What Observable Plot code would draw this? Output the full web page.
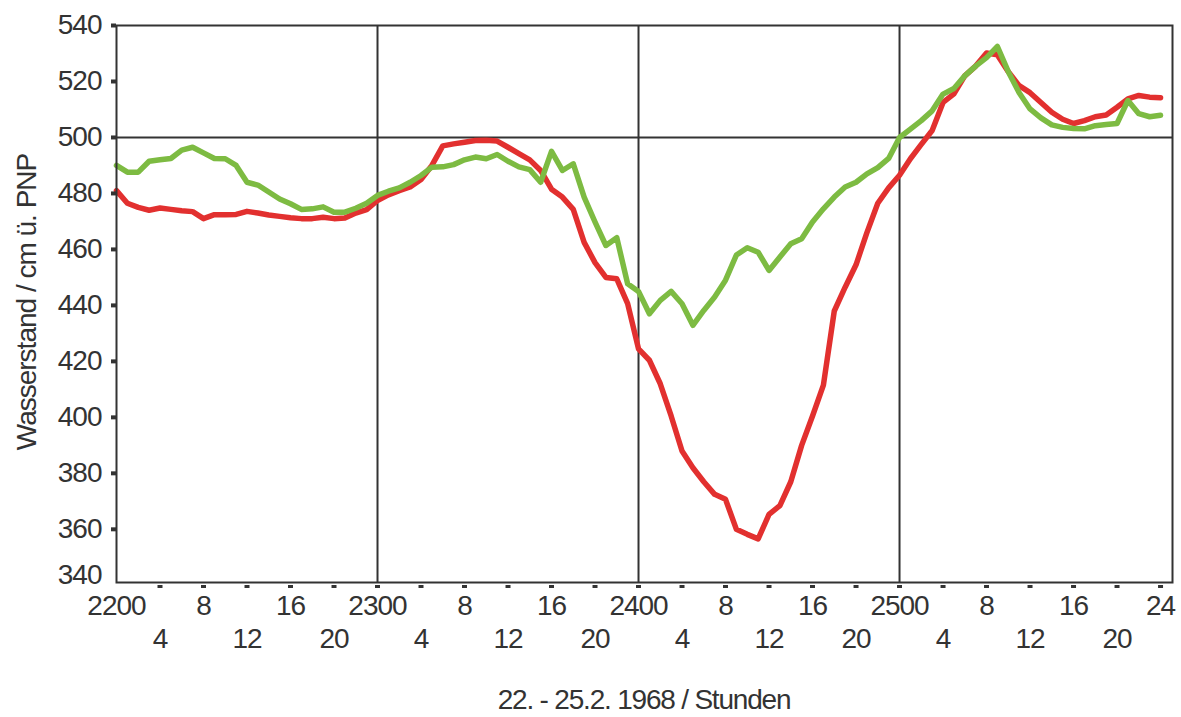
<!DOCTYPE html>
<html>
<head>
<meta charset="utf-8">
<script src="https://cdn.jsdelivr.net/npm/d3@7"></script>
<script src="https://cdn.jsdelivr.net/npm/@observablehq/plot@0.6"></script>
<style>
  body { margin: 0; background: #fff; font-family: "Liberation Sans", Arial, sans-serif; color: #333; }
  #wrap { position: relative; width: 1181px; height: 717px; overflow: hidden; }
  #wrap svg text { letter-spacing: -1px; }
  #ytitle { position: absolute; left: 27px; top: 302px; transform: translate(-50%, -50%) rotate(-90deg);
            font-size: 28px; letter-spacing: -1px; white-space: nowrap; line-height: 1; }
  #xtitle { position: absolute; left: 644px; top: 686px; transform: translateX(-50%);
            font-size: 28px; letter-spacing: -1.2px; white-space: nowrap; line-height: 1; }
</style>
</head>
<body>
<div id="wrap">
  <div id="chart"></div>
  <div id="ytitle">Wasserstand / cm ü. PNP</div>
  <div id="xtitle">22. - 25.2. 1968 / Stunden</div>
</div>
<script>
// hours since 22.2.1968 00:00
const hours = d3.range(0, 97);

// red series (water level, cm above PNP)
const redLevel = [
  481, 476.5, 475, 474, 474.8, 474.3, 473.8, 473.5, 471, 472.4, 472.4, 472.5, 473.6, 473, 472.3, 471.8, 471.3, 471, 471, 471.5, 471, 471.2, 473, 474.2,
  477.5, 479.5, 481, 482.3, 485, 490, 497, 497.7, 498.3, 498.9, 499, 498.7, 496.5, 494.2, 492, 488.2, 481.5, 478.7, 474.3, 462.5, 455.3, 450, 449.5, 440.6,
  424.5, 420.4, 412, 400.5, 388, 382, 377, 372.5, 370.7, 360, 358.2, 356.6, 365.3, 368.5, 377, 390, 400.5, 411.5, 438, 446.5, 454.5, 466, 476.5, 482,
  486.5, 492.4, 497.5, 502.5, 512.5, 515.6, 522, 525.5, 530.2, 529.5, 523.5, 518.5, 516, 512.5, 509, 506.5, 505, 506, 507.4, 508, 510.8, 513.8, 515, 514.4,
  514.2
];

// green series (water level, cm above PNP)
const greenLevel = [
  490, 487.6, 487.6, 491.5, 492, 492.5, 495.5, 496.5, 494.5, 492.5, 492.4, 490, 484, 483, 480.5, 478, 476.3, 474.3, 474.5, 475.2, 473.3, 473.3, 474.7, 476.5,
  479.3, 480.8, 482, 484, 486.4, 489.4, 489.5, 490.3, 492, 493, 492.4, 493.9, 491.5, 489.5, 488.5, 484, 495, 488.2, 490.6, 478.7, 469.8, 461.4, 464.2, 447.7,
  445, 437, 441.8, 445, 440.6, 432.9, 438.2, 443, 449, 458, 460.6, 459, 452.5, 457.3, 462, 463.8, 469.8, 474.5, 478.7, 482.3, 484, 487, 489.2, 492.5,
  500, 503, 506, 509.5, 515.5, 517.5, 522, 525.5, 528.5, 532.5, 523.5, 516, 510.2, 507, 504.5, 503.6, 503.2, 503.1, 504.2, 504.6, 505, 513.2, 508.5, 507.4,
  507.9
];

// axis ticks and labels
const yTicks = [340, 360, 380, 400, 420, 440, 460, 480, 500, 520, 540];
const row1Ticks = [0, 8, 16, 24, 32, 40, 48, 56, 64, 72, 80, 88, 96];
const row1Labels = ["2200", "8", "16", "2300", "8", "16", "2400", "8", "16", "2500", "8", "16", "24"];
const row2Ticks = [4, 12, 20, 28, 36, 44, 52, 60, 68, 76, 84, 92];
const row2Labels = ["4", "12", "20", "4", "12", "20", "4", "12", "20", "4", "12", "20"];
const dashTicks = [4, 8, 12, 16, 20, 24, 28, 32, 36, 40, 44, 48, 52, 56, 60, 64, 68, 72, 76, 80, 84, 88, 92, 96];
const dayBreaks = [24, 48, 72];
const refLevel = [500];

const data = hours.map((h, i) => ({ h, red: redLevel[i], green: greenLevel[i] }));

const ink = "#333";
const plot = Plot.plot({
  width: 1181,
  height: 662,
  marginLeft: 116,
  marginRight: 9,
  marginTop: 25,
  marginBottom: 80,
  x: { domain: [0, 97.1] },
  y: { domain: [341, 540] },
  style: { fontFamily: "Liberation Sans, Arial, sans-serif", fontSize: "28px", color: ink, background: "white", overflow: "visible" },
  marks: [
    Plot.ruleX(dayBreaks, { stroke: ink, strokeWidth: 2 }),
    Plot.ruleY(refLevel, { stroke: ink, strokeWidth: 2 }),
    Plot.line(data, { x: "h", y: "red", stroke: "#e2302f", strokeWidth: 5.5, strokeLinejoin: "round" }),
    Plot.line(data, { x: "h", y: "green", stroke: "#7dbb42", strokeWidth: 5.5, strokeLinejoin: "round" }),
    Plot.frame({ stroke: ink, strokeWidth: 2 }),
    Plot.axisY(yTicks.slice(1), { tickSize: 5, strokeWidth: 4, tickPadding: 10, stroke: ink, fill: ink, fontSize: 28, label: null }),
    Plot.axisY([yTicks[0]], { tickSize: 0, tickPadding: 15, dy: -10, fill: ink, fontSize: 28, label: null }),
    Plot.axisX(dashTicks, { tickSize: 3, dy: 3, strokeWidth: 5, stroke: ink, tickFormat: () => "", label: null }),
    Plot.axisX(row1Ticks, { tickSize: 0, tickPadding: 13, fill: ink, fontSize: 28, label: null,
      tickFormat: d => row1Labels[row1Ticks.indexOf(d)] }),
    Plot.axisX(row2Ticks, { tickSize: 0, tickPadding: 46, fill: ink, fontSize: 28, label: null,
      tickFormat: d => row2Labels[row2Ticks.indexOf(d)] })
  ]
});
document.getElementById("chart").appendChild(plot);
</script>
</body>
</html>
